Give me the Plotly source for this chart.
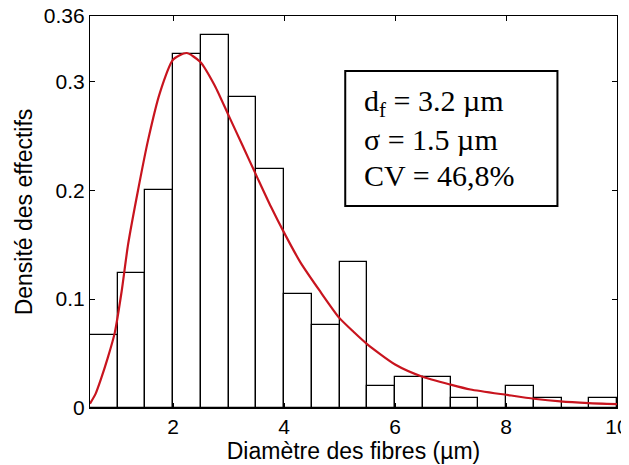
import plotly.graph_objects as go

# Histogram (bin centres, bin width 0.5 µm)
bin_centers = [0.75, 1.25, 1.75, 2.25, 2.75, 3.25, 3.75, 4.25, 4.75, 5.25,
               5.75, 6.25, 6.75, 7.25, 7.75, 8.25, 8.75, 9.25, 9.75]
densities = [0.067, 0.124, 0.200, 0.325, 0.343, 0.286, 0.2195, 0.105, 0.0765, 0.134,
             0.020, 0.0285, 0.0285, 0.0095, 0.0, 0.020, 0.0095, 0.0, 0.0095]

# Fitted curve
curve_x = [0.5, 0.60, 0.70, 0.82, 0.946, 1.07, 1.186, 1.366, 1.547, 1.757, 2.0, 2.24,
           2.485, 2.75, 2.996, 3.25, 3.508, 3.76, 4.02, 4.29, 4.65, 4.99, 5.25, 5.50,
           6.0, 6.48, 7.0, 7.36, 8.02, 8.5, 8.98, 9.49, 10.0]
curve_y = [0.004, 0.013, 0.027, 0.046, 0.069, 0.107, 0.150, 0.200, 0.246, 0.289, 0.320,
           0.326, 0.318, 0.296, 0.269, 0.241, 0.2125, 0.185, 0.159, 0.134, 0.107, 0.0830,
           0.0700, 0.0585, 0.0400, 0.0290, 0.0215, 0.0170, 0.0120, 0.0085, 0.0060,
           0.0045, 0.0036]

x_ticks = [2, 4, 6, 8, 10]
y_ticks = [0, 0.1, 0.2, 0.3, 0.36]
y_tick_text = ["0", "0.1", "0.2", "0.3", "0.36"]

stats_lines = ["d<sub>f</sub> = 3.2 µm", "σ = 1.5 µm", "CV = 46,8%"]

fig = go.Figure()
fig.add_trace(go.Bar(
    x=bin_centers, y=densities, width=0.5,
    marker=dict(color="white", line=dict(color="black", width=1.3)),
    showlegend=False, hoverinfo="skip",
))
fig.add_trace(go.Scatter(
    x=curve_x, y=curve_y, mode="lines",
    line=dict(color="#c8141e", width=2.2, shape="spline", smoothing=0.6),
    showlegend=False, hoverinfo="skip",
))

axis_font = dict(family="Liberation Sans, Arial, sans-serif", size=21, color="black")
title_font = dict(family="Liberation Sans, Arial, sans-serif", size=23, color="black")

# The page body adds an 8 px margin, so the figure is 8 px smaller than the window
fig.update_layout(
    width=621, height=457,
    margin=dict(l=82, r=12, t=8, b=57, autoexpand=False),
    paper_bgcolor="white", plot_bgcolor="white",
    bargap=0,
    xaxis=dict(
        range=[0.5, 10], tickvals=x_ticks, ticks="inside", ticklen=5,
        tickcolor="black", showline=True, linecolor="black", linewidth=1.2,
        mirror="ticks", showgrid=False, zeroline=False, tickfont=axis_font,
        automargin=False, ticklabeloverflow="allow",
        title=dict(text="Diamètre des fibres (µm)", font=title_font, standoff=0),
    ),
    yaxis=dict(
        range=[0, 0.36], tickvals=y_ticks, ticktext=y_tick_text, ticks="inside",
        ticklen=5, tickcolor="black", showline=True, linecolor="black",
        linewidth=1.2, mirror="ticks", showgrid=False, zeroline=False,
        tickfont=axis_font, automargin=False, ticklabeloverflow="allow",
        title=dict(text="Densité des effectifs", font=title_font, standoff=4),
    ),
)

# Statistics box
box_x0, box_x1 = (345 - 90) / 526.5, (557 - 90) / 526.5
box_y0, box_y1 = (408 - 206) / 392, (408 - 71) / 392
fig.add_shape(type="rect", xref="paper", yref="paper",
              x0=box_x0, x1=box_x1, y0=box_y0, y1=box_y1,
              line=dict(color="black", width=2), fillcolor="white", layer="above")
line_centres_px = [103, 139, 175]
for txt, ypx in zip(stats_lines, line_centres_px):
    fig.add_annotation(
        text=txt, xref="paper", yref="paper",
        x=(362 - 90) / 526.5, y=(408 - ypx) / 392,
        xanchor="left", yanchor="middle", showarrow=False,
        font=dict(family="Liberation Serif, Times New Roman, serif", size=30, color="black"),
    )

fig.write_html("out.html")
